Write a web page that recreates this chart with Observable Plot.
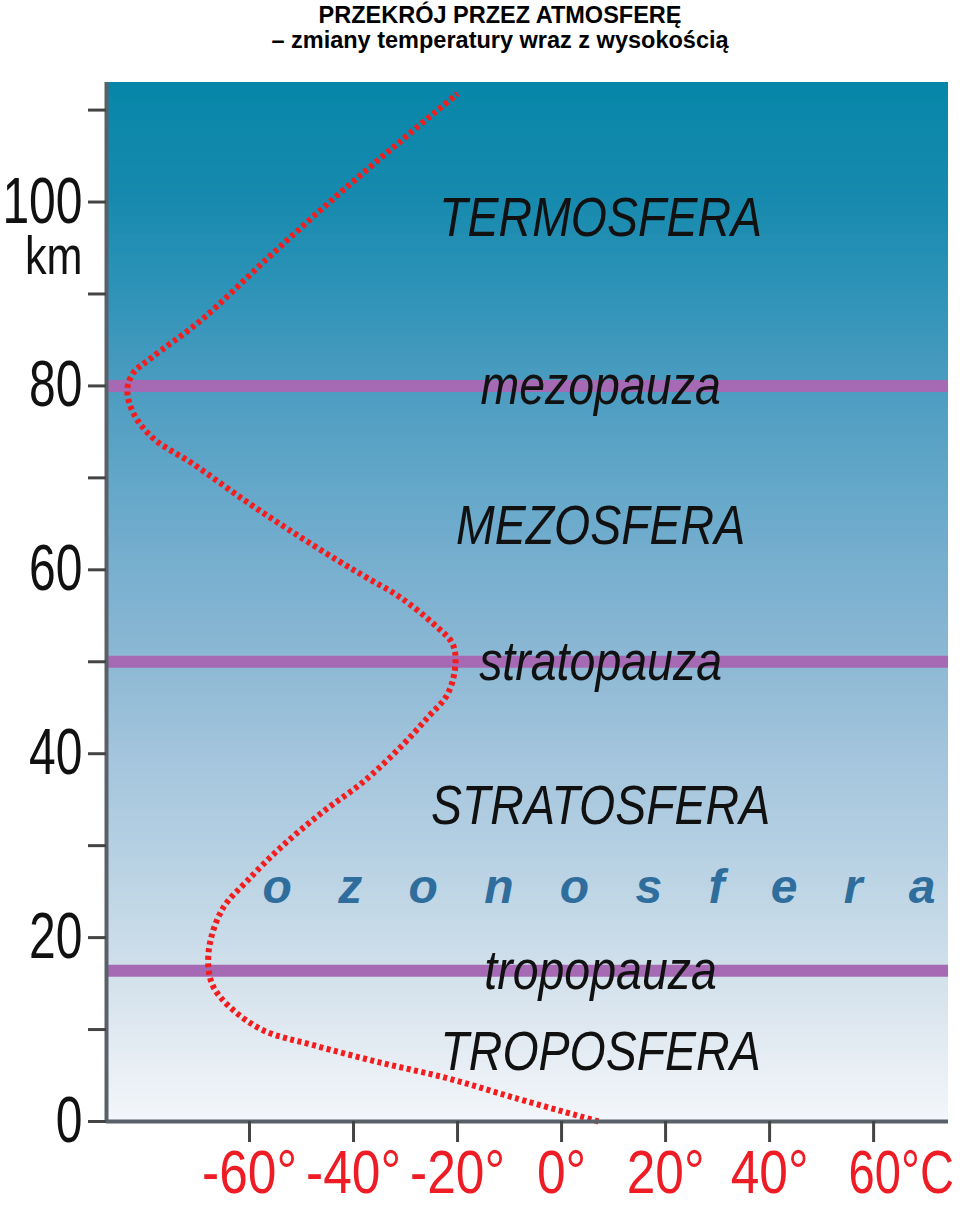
<!DOCTYPE html>
<html>
<head>
<meta charset="utf-8">
<script src="https://cdn.jsdelivr.net/npm/d3@7"></script>
<script src="https://cdn.jsdelivr.net/npm/@observablehq/plot@0.6"></script>
<style>
  body { margin: 0; background: #ffffff; }
  #title { width: 960px; height: 56px; box-sizing: border-box; padding-left: 40px;
    font-family: "Liberation Sans", Arial, sans-serif; font-weight: bold; font-size: 23.5px;
    line-height: 24.5px; color: #000; text-align: center; padding-top: 3px; }
  #chart svg { display: block; }
</style>
</head>
<body>
<div id="title">PRZEKRÓJ PRZEZ ATMOSFERĘ<br>– zmiany temperatury wraz z wysokością</div>
<div id="chart"></div>
<script>
// Temperature profile (°C) by altitude (km)
const altitude = [0, 2.6, 4.7, 6.4, 8.3, 9.9, 12.4, 14.6, 16.7, 19.7, 23.3, 26.2, 29.8, 33.5, 37, 40.7, 43.9, 46.5, 49.8, 52, 54.1, 57, 59.1, 61, 64.2, 67.5, 71.5, 74.3, 77, 79.5, 81.3, 83, 87.1, 93.9, 100.4, 106.6, 111.8];
const temperature = [7.1, -9.2, -21.9, -34.8, -47.7, -57.3, -63.7, -66.9, -67.9, -67.5, -65, -60.4, -54, -46.3, -38, -31, -25.8, -21.9, -20.4, -21, -24.6, -31, -37.3, -43, -52, -60.8, -70.8, -78.5, -82.3, -83.5, -82.5, -79, -69.4, -56.5, -43.8, -31, -20];

// Boundaries (pauses)
const pauseNames = ["mezopauza", "stratopauza", "tropopauza"];
const pauseAlt = [80, 50, 16.4];

// Layer names
const layerNames = ["TERMOSFERA", "MEZOSFERA", "STRATOSFERA", "TROPOSFERA"];
const layerAlt = [98.3, 64.8, 34.3, 7.5];

const ozoneName = "ozonosfera";
const ozoneAlt = 25.4;

// Axes
const xTicks = [-60, -40, -20, 0, 20, 40, 60];
const xTickLabels = ["-60°", "-40°", "-20°", "0°", "20°", "40°", "60°C"];
const yTicks = [0, 10, 20, 30, 40, 50, 60, 70, 80, 90, 100, 110];
const yTickLabels = ["0", "", "20", "", "40", "", "60", "", "80", "", "100", ""];
const yUnit = "km";

// Background gradient stops (altitude km -> colour)
const bgAlt = [0, 10, 20, 30, 40, 50, 60, 70, 80, 90, 100, 113];
const bgColors = ["#f3f6fa", "#dfe8f0", "#c8dbe8", "#b4cfe2", "#a2c4dc", "#8cb8d4", "#78afcf", "#61a6c8", "#4a9cc0", "#2f93b8", "#178aae", "#0786a8"];

const xDomain = [-87.5, 74.4];
const yDomain = [0, 113];
const labelTemp = 7.5;

const profile = altitude.map((h, i) => ({h, t: temperature[i]}));
const pauses = pauseNames.map((name, i) => ({name, h: pauseAlt[i]}));
const layers = layerNames.map((name, i) => ({name, h: layerAlt[i]}));
const bands = d3.range(yDomain[0], yDomain[1], 0.5);

const font = "'Liberation Sans', Arial, sans-serif";

const chart = Plot.plot({
  width: 960,
  height: 1152,
  marginTop: 26,
  marginBottom: 87,
  marginLeft: 106,
  marginRight: 12,
  style: {fontFamily: font, background: "transparent"},
  x: {domain: xDomain},
  y: {domain: yDomain},
  color: {type: "linear", domain: bgAlt, range: bgColors, interpolate: "rgb"},
  marks: [
    Plot.rect(bands, {y1: d => d, y2: d => Math.min(d + 0.6, yDomain[1]), fill: d => d}),
    Plot.ruleY(pauses, {y: "h", stroke: "#a66ab5", strokeWidth: 12}),
    Plot.line(profile, {x: "t", y: "h", curve: "catmull-rom", stroke: "#f41c1c", strokeWidth: 6, strokeDasharray: "4 3.5", strokeLinecap: "butt"}),
    Plot.text(layers, {x: () => labelTemp, y: "h", text: "name", fontSize: 56, fontStyle: "italic", fill: "#111", lineAnchor: "middle"}),
    Plot.text(pauses, {x: () => labelTemp, y: "h", text: "name", fontSize: 56, fontStyle: "italic", fill: "#111", lineAnchor: "middle"}),
    Plot.text([ozoneName], {x: () => -57.5, y: () => ozoneAlt, text: d => d, fontSize: 48, fontWeight: "bold", fontStyle: "italic", fill: "#2f6d9c", textAnchor: "start", lineAnchor: "middle"}),
    Plot.ruleX([xDomain[0]], {stroke: "#5a6068", strokeWidth: 4}),
    Plot.ruleY([0], {stroke: "#5a6068", strokeWidth: 4}),
    Plot.axisY({ticks: yTicks, tickSize: 18, tickPadding: 6, tickFormat: (d) => yTickLabels[yTicks.indexOf(d)], fontSize: 64, stroke: "#444", strokeWidth: 3, fill: "#111", label: null}),
    Plot.text([yUnit], {x: () => xDomain[0], y: () => 94.1, text: d => d, dx: -24, textAnchor: "end", lineAnchor: "middle", fontSize: 54, fill: "#111"}),
    Plot.axisX({ticks: xTicks, tickSize: 21, tickFormat: () => "", stroke: "#444", strokeWidth: 3, label: null}),
    Plot.text(xTicks.slice(0, 6), {x: d => d, frameAnchor: "bottom", text: (d, i) => xTickLabels[i], dy: 52, lineAnchor: "middle", fontSize: 62, fill: "#ee1c24"}),
    Plot.text(xTicks.slice(6), {x: d => d, frameAnchor: "bottom", text: () => xTickLabels[6], dy: 52, dx: -25, textAnchor: "start", lineAnchor: "middle", fontSize: 62, fill: "#ee1c24"})
  ]
});

document.getElementById("chart").appendChild(chart);

// Condensed (narrow) lettering as in the original, and spaced-out "ozonosfera"
const yLabelSet = new Set(yTickLabels.filter(d => d));
d3.select(chart).selectAll("text").each(function() {
  const t = this.textContent;
  if (!t) return;
  const len = this.getComputedTextLength();
  let k = 0.83;
  if (t === ozoneName) {
    this.setAttribute("textLength", 673);
    this.setAttribute("lengthAdjust", "spacing");
    return;
  }
  if (yLabelSet.has(t)) k = 0.75;
  if (t === xTickLabels[6]) k = 0.76;
  if (t === yUnit) k = 0.8;
  this.setAttribute("textLength", (len * k).toFixed(1));
  this.setAttribute("lengthAdjust", "spacingAndGlyphs");
});
</script>
</body>
</html>
